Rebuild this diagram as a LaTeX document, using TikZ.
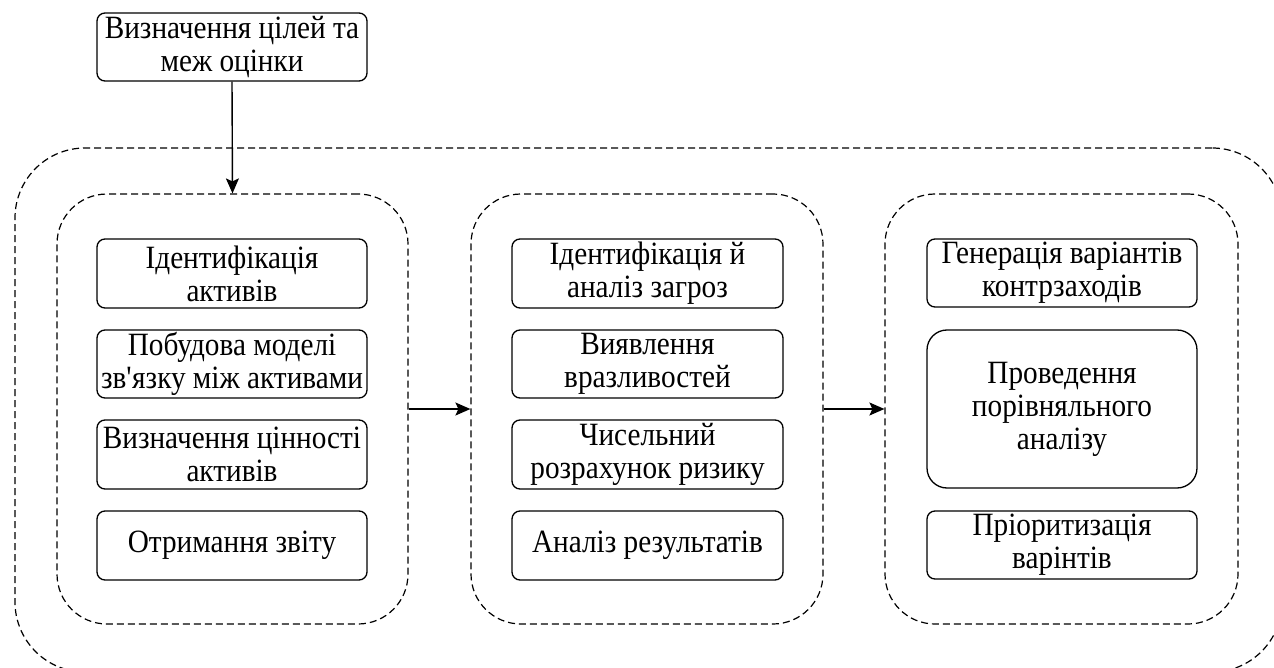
\documentclass[tikz,border=0pt]{standalone}
\usepackage{fontspec}
\setmainfont{Liberation Serif}[FakeStretch=0.9]
\usetikzlibrary{arrows.meta}
\tikzset{
  stepbox/.style={draw, line width=1.3pt, rounded corners=8pt, align=center, inner sep=0pt,
    minimum width=270pt, font=\fontsize{32.5}{33}\selectfont},
  groupbox/.style={draw, line width=1.2pt, dash pattern=on 7pt off 4pt, rounded corners=50pt, inner sep=0pt},
  conn/.style={line width=1.4pt, -{Stealth[length=15pt,width=13pt,inset=3pt]}}
}
\begin{document}
\begin{tikzpicture}[x=1pt,y=-1pt]
\useasboundingbox (0,0) rectangle (1274,668);
\clip (0,0) rectangle (1274,668);
% outer dashed frame
\node[groupbox, rounded corners=70pt, minimum width=1267pt, minimum height=524pt] (outer) at (648.5,410) {};
% groups
\node[groupbox, minimum width=351pt, minimum height=430pt] (g1) at (232.5,409) {};
\node[groupbox, minimum width=352pt, minimum height=430pt] (g2) at (647,409) {};
\node[groupbox, minimum width=353pt, minimum height=430pt] (g3) at (1061.5,409) {};
% top box
\node[stepbox, minimum height=68pt] (top) at (232,47) {Визначення цілей та\\меж оцінки};
% column 1
\node[stepbox, minimum height=69pt] (a1) at (232,273.5) {Ідентифікація\\активів};
\node[stepbox, minimum height=68pt] (a2) at (232,364) {Побудова моделі\\зв\textquotesingle язку між активами};
\node[stepbox, minimum height=69pt] (a3) at (232,454.5) {Визначення цінності\\активів};
\node[stepbox, minimum height=69pt] (a4) at (232,545.5) {Отримання звіту};
% column 2
\node[stepbox, minimum width=271pt, minimum height=69pt] (b1) at (647.5,273.5) {Ідентифікація й\\аналіз загроз};
\node[stepbox, minimum width=271pt, minimum height=68pt] (b2) at (647.5,364) {Виявлення\\вразливостей};
\node[stepbox, minimum width=271pt, minimum height=69pt] (b3) at (647.5,454.5) {Чисельний\\розрахунок ризику};
\node[stepbox, minimum width=271pt, minimum height=69pt] (b4) at (647.5,545.5) {Аналіз результатів};
% column 3
\node[stepbox, minimum width=270pt, minimum height=68pt] (c1) at (1062,273) {Генерація варіантів\\контрзаходів};
\node[stepbox, rounded corners=20pt, minimum width=270pt, minimum height=158pt] (c2) at (1062,409) {Проведення\\порівняльного\\аналізу};
\node[stepbox, minimum width=270pt, minimum height=68pt] (c3) at (1062,545) {Пріоритизація\\варінтів};
% connectors
\draw[conn] (top.south) -- (g1.north);
\draw[conn] (g1.east) -- (g2.west);
\draw[conn] (g2.east) -- (g3.west);
\end{tikzpicture}
\end{document}
